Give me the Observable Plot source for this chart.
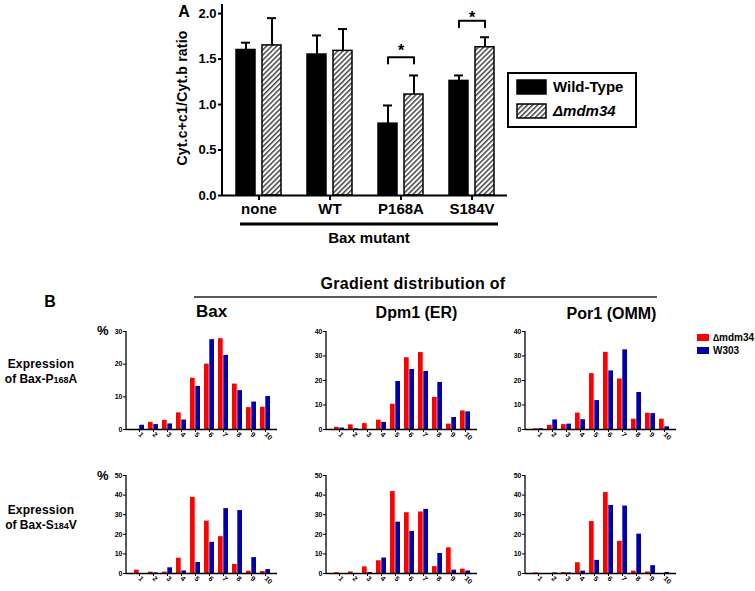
<!DOCTYPE html>
<html><head><meta charset="utf-8">
<script src="https://cdn.jsdelivr.net/npm/d3@7"></script>
<script src="https://cdn.jsdelivr.net/npm/@observablehq/plot@0.6"></script>
<style>
body{margin:0;background:#fff}
#wrap{position:relative;width:755px;height:591px;overflow:hidden;background:#fff}
</style>
</head><body><div id="wrap"></div>
<script>
// ---------- Panel A data ----------
const genos = ["Wild-Type", "Δmdm34"];
const catsA = ["none", "WT", "P168A", "S184V"];
const wtMean = [1.60, 1.55, 0.79, 1.26];
const wtSD = [0.08, 0.21, 0.20, 0.06];
const mdmMean = [1.65, 1.59, 1.11, 1.63];
const mdmSD = [0.30, 0.24, 0.21, 0.11];
const sigCats = ["P168A", "S184V"];
const sigLow = [1.45, 1.85];
const sigHigh = [1.52, 1.92];
const starY = [1.59, 1.95];
const ticksA = [0, 0.5, 1.0, 1.5, 2.0];

// ---------- Panel B data ----------
const bins = ["1","2","3","4","5","6","7","8","9","10"];
const baxP_mdm  = [0, 2.2, 2.8, 5.1, 15.7, 20.0, 27.8, 13.9, 6.7, 6.8];
const baxP_w303 = [1.3, 1.5, 1.7, 2.9, 13.2, 27.5, 22.7, 11.9, 8.4, 10.1];
const dpmP_mdm  = [0.9, 1.9, 2.4, 3.8, 10.3, 29.3, 31.4, 13.1, 2.2, 7.6];
const dpmP_w303 = [0.6, 0.3, 0, 2.9, 19.6, 24.5, 23.7, 19.2, 4.9, 7.2];
const porP_mdm  = [0.3, 1.7, 2.0, 6.7, 22.8, 31.5, 20.6, 4.2, 6.6, 4.2];
const porP_w303 = [0.3, 3.9, 2.2, 4.0, 11.8, 23.9, 32.5, 15.1, 6.5, 1.1];
const baxS_mdm  = [1.7, 0.7, 0.7, 7.8, 38.8, 26.7, 18.8, 4.6, 1.2, 1.0];
const baxS_w303 = [0, 0.3, 2.9, 1.3, 5.6, 15.9, 33.1, 32.1, 8.1, 2.0];
const dpmS_mdm  = [0.4, 0.8, 3.4, 6.5, 41.8, 31.0, 31.4, 3.5, 13.1, 2.2];
const dpmS_w303 = [0, 0, 0.5, 7.9, 26.2, 21.5, 32.7, 10.2, 1.7, 1.3];
const porS_mdm  = [0.3, 0, 0.5, 5.5, 26.5, 41.3, 16.4, 1.2, 0.8, 0];
const porS_w303 = [0, 0.3, 0.3, 1.2, 6.7, 34.7, 34.4, 20.1, 4.0, 0.5];
const seriesB = ["∆mdm34", "W303"];

// ---------- styling ----------
const FONT = '"Liberation Sans", Arial, Helvetica, sans-serif';
const RED = "#ff0000", BLUE = "#0000aa";

const wrap = document.getElementById("wrap");
function place(node, left, top) {
  node.style.position = "absolute";
  node.style.left = left + "px";
  node.style.top = top + "px";
  wrap.appendChild(node);
}
function yAxisLine(svg, xName, sw) {
  const xs = svg.scale(xName), ys = svg.scale("y");
  const x0 = Math.min(...xs.range);
  d3.select(svg).append("line")
    .attr("x1", x0).attr("x2", x0)
    .attr("y1", ys.range[0]).attr("y2", ys.range[1])
    .attr("stroke", "black").attr("stroke-width", sw);
}

// hatch pattern
const defsSvg = d3.select(wrap).append("svg").attr("width", 0).attr("height", 0)
  .style("position", "absolute");
const pat = defsSvg.append("defs").append("pattern").attr("id", "hatch")
  .attr("patternUnits", "userSpaceOnUse").attr("width", 3.6).attr("height", 3.6)
  .attr("patternTransform", "rotate(45)");
pat.append("rect").attr("width", 3.6).attr("height", 3.6).attr("fill", "white");
pat.append("line").attr("x1", 0.8).attr("y1", 0).attr("x2", 0.8).attr("y2", 3.6)
  .attr("stroke", "black").attr("stroke-width", 1.1);

// ---------- Panel A ----------
const rowsA = catsA.flatMap((c, i) => [
  {cat: c, geno: genos[0], mean: wtMean[i], top: wtMean[i] + wtSD[i]},
  {cat: c, geno: genos[1], mean: mdmMean[i], top: mdmMean[i] + mdmSD[i]}
]);
const bracketPts = sigCats.flatMap((c, i) => [
  {cat: c, geno: genos[0], y: sigLow[i]},
  {cat: c, geno: genos[0], y: sigHigh[i]},
  {cat: c, geno: genos[1], y: sigHigh[i]},
  {cat: c, geno: genos[1], y: sigLow[i]}
]);
const stars = sigCats.map((c, i) => ({cat: c, y: starY[i]}));

const pA = Plot.plot({
  width: 520, height: 222,
  marginLeft: 222, marginRight: 12, marginTop: 4, marginBottom: 27,
  style: {fontFamily: FONT, fontWeight: "bold", fontSize: "13px", background: "none", overflow: "visible", color: "black"},
  fx: {domain: catsA, padding: 0, label: null},
  x: {domain: genos, paddingInner: 0.28, paddingOuter: 0.5, axis: null},
  y: {domain: [0, 2.1]},
  marks: [
    Plot.barY(rowsA.filter(d => d.geno === genos[0]), {fx: "cat", x: "geno", y: "mean", fill: "black", stroke: "black", strokeWidth: 1.5}),
    Plot.barY(rowsA.filter(d => d.geno === genos[1]), {fx: "cat", x: "geno", y: "mean", fill: "url(#hatch)", stroke: "black", strokeWidth: 1.5}),
    Plot.ruleX(rowsA, {fx: "cat", x: "geno", y1: "mean", y2: "top", stroke: "black", strokeWidth: 2}),
    Plot.tickY(rowsA, {fx: "cat", x: "geno", y: "top", stroke: "black", strokeWidth: 2, insetLeft: 5, insetRight: 5}),
    Plot.line(bracketPts, {fx: "cat", x: "geno", y: "y", z: "cat", stroke: "black", strokeWidth: 2}),
    Plot.text(stars, {fx: "cat", y: "y", text: () => "*", fontSize: 16, fontWeight: "bold"}),
    Plot.ruleY([0], {stroke: "black", strokeWidth: 2}),
    Plot.axisY({ticks: ticksA, tickFormat: d3.format(".1f"), tickSize: 5, tickPadding: 2, strokeWidth: 2, fontSize: 13, label: null}),
    Plot.axisFx({anchor: "bottom", tickSize: 5, tickPadding: 3, strokeWidth: 2, fontSize: 15, label: null})
  ]
});
yAxisLine(pA, "fx", 2);
place(pA, 0, 0);

// ---------- Panel B ----------
function hist(mdm, w303, yMax, height, marginBottom) {
  const rows = bins.map((b, i) => ({bin: b, mdm: mdm[i], w303: w303[i]}));
  const p = Plot.plot({
    width: 187, height,
    marginLeft: 31, marginRight: 5, marginTop: 11, marginBottom,
    style: {fontFamily: FONT, fontWeight: "bold", fontSize: "7px", background: "none", overflow: "visible", color: "black"},
    x: {domain: bins, paddingInner: 0.3, paddingOuter: 0.29},
    y: {domain: [0, yMax]},
    marks: [
      Plot.barY(rows, {x: "bin", y: "mdm", fill: RED, insetRight: 5.3}),
      Plot.barY(rows, {x: "bin", y: "w303", fill: BLUE, insetLeft: 5.3}),
      Plot.ruleY([0], {stroke: "black", strokeWidth: 1.3}),
      Plot.axisX({tickRotate: 45, tickSize: 3, tickPadding: 1, fontSize: 7, label: null}),
      Plot.axisY({ticks: d3.range(0, yMax + 1, 10), tickSize: 3, tickPadding: 1, fontSize: 7, label: null})
    ]
  });
  yAxisLine(p, "x", 1.3);
  return p;
}
const panelsB = [
  {mdm: baxP_mdm, w: baxP_w303, yMax: 30, left: 95,  top: 320, h: 129, mb: 20},
  {mdm: dpmP_mdm, w: dpmP_w303, yMax: 40, left: 295, top: 320, h: 129, mb: 20},
  {mdm: porP_mdm, w: porP_w303, yMax: 40, left: 494, top: 320, h: 129, mb: 20},
  {mdm: baxS_mdm, w: baxS_w303, yMax: 50, left: 95,  top: 464, h: 127, mb: 18},
  {mdm: dpmS_mdm, w: dpmS_w303, yMax: 50, left: 295, top: 464, h: 127, mb: 18},
  {mdm: porS_mdm, w: porS_w303, yMax: 50, left: 494, top: 464, h: 127, mb: 18}
];
for (const s of panelsB) place(hist(s.mdm, s.w, s.yMax, s.h, s.mb), s.left, s.top);

// ---------- annotations ----------
const ov = d3.select(wrap).append("svg").attr("width", 755).attr("height", 591)
  .style("position", "absolute").style("left", "0px").style("top", "0px")
  .style("font-family", FONT).style("font-weight", "bold").attr("fill", "black");
function T(x, y, s, size, anchor = "start", extra = {}) {
  const t = ov.append("text").attr("x", x).attr("y", y).attr("font-size", size)
    .attr("text-anchor", anchor).text(s);
  for (const k in extra) t.attr(k, extra[k]);
  return t;
}
// Panel A labels
T(184, 17, "A", 16, "middle");
ov.append("text").attr("transform", "translate(182,98) rotate(-90)")
  .attr("text-anchor", "middle").attr("dominant-baseline", "central")
  .attr("font-size", 14).attr("letter-spacing", 0.2).text("Cyt.c+c1/Cyt.b ratio");
ov.append("line").attr("x1", 240).attr("x2", 498).attr("y1", 224).attr("y2", 224)
  .attr("stroke", "black").attr("stroke-width", 3);
T(369, 243, "Bax mutant", 15, "middle");
// Panel A legend
ov.append("rect").attr("x", 508).attr("y", 73).attr("width", 128).attr("height", 54)
  .attr("fill", "none").attr("stroke", "black").attr("stroke-width", 2);
ov.append("rect").attr("x", 517).attr("y", 80).attr("width", 29).attr("height", 14)
  .attr("fill", "black").attr("stroke", "black").attr("stroke-width", 1.5);
ov.append("rect").attr("x", 517).attr("y", 104).attr("width", 29).attr("height", 14)
  .attr("fill", "url(#hatch)").attr("stroke", "black").attr("stroke-width", 1.5);
T(553, 92, genos[0], 15);
T(553, 116, genos[1], 15, "start", {"font-style": "italic"});

// Panel B headings
T(413, 289, "Gradient distribution of", 16, "middle", {"letter-spacing": 0.3});
ov.append("line").attr("x1", 194).attr("x2", 657).attr("y1", 297).attr("y2", 297)
  .attr("stroke", "#222").attr("stroke-width", 1.5);
T(50, 307, "B", 16, "middle");
T(196, 317, "Bax", 17);
T(416.5, 318, "Dpm1 (ER)", 16, "middle");
T(611.5, 319, "Por1 (OMM)", 16, "middle");
T(97, 335, "%", 13);
T(97, 480, "%", 13);

// row labels
function rowLabel(y, letter, num, end) {
  T(41, y, "Expression", 12, "middle", {"letter-spacing": 0.2});
  const t = ov.append("text").attr("x", 41).attr("y", y + 15).attr("font-size", 12)
    .attr("text-anchor", "middle");
  t.append("tspan").text("of Bax-" + letter);
  t.append("tspan").attr("font-size", 9).text(num);
  t.append("tspan").text(end);
}
rowLabel(368, "P", "168", "A");
rowLabel(514, "S", "184", "V");

// Panel B legend
ov.append("rect").attr("x", 697).attr("y", 334).attr("width", 12).attr("height", 7).attr("fill", RED);
ov.append("rect").attr("x", 697).attr("y", 347).attr("width", 12).attr("height", 7).attr("fill", BLUE);
T(713, 341, seriesB[0], 10);
T(713, 354, seriesB[1], 10);
</script>
</body></html>
